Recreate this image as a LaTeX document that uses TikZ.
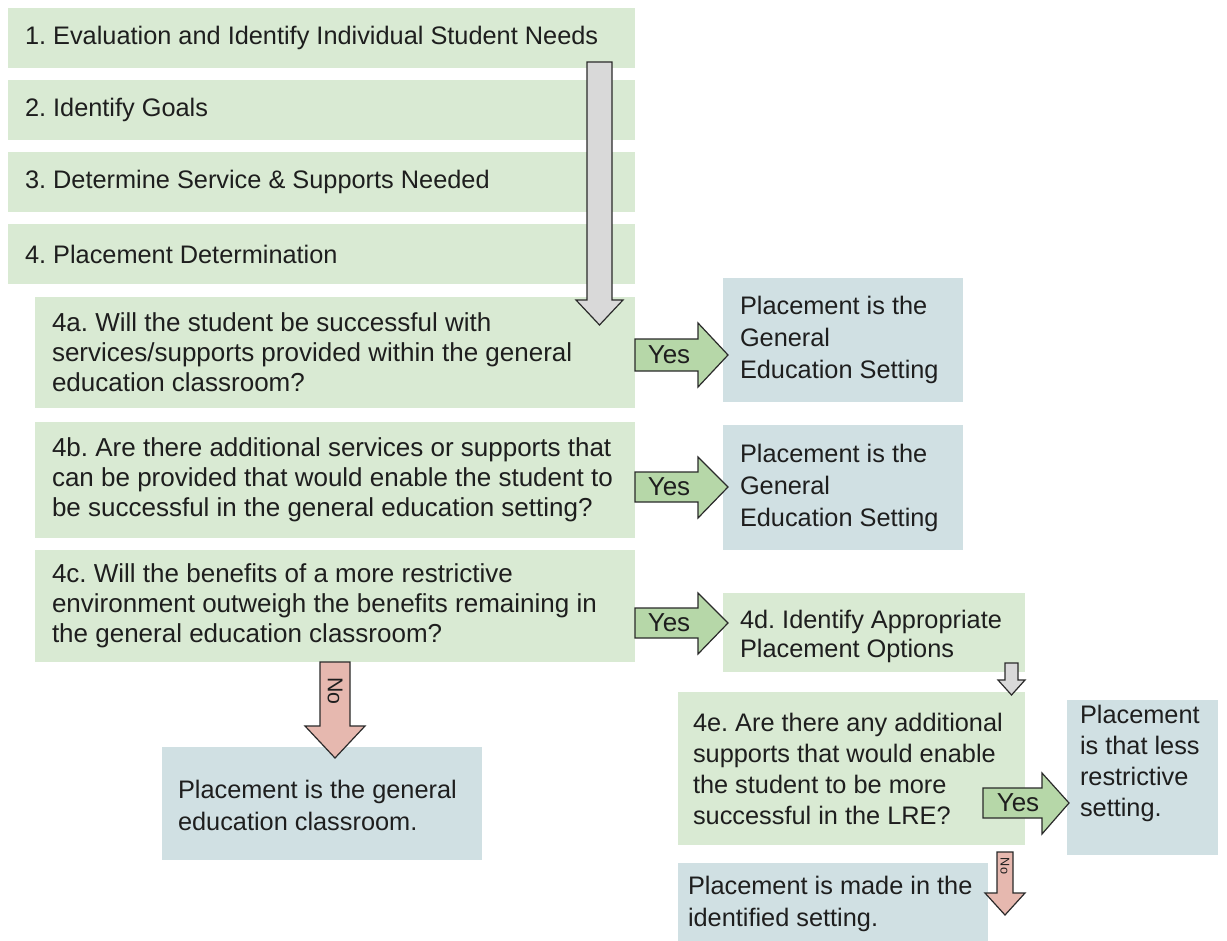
\documentclass[tikz,border=0pt]{standalone}
\usepackage{fontspec}
\setmainfont{Liberation Sans}
\usetikzlibrary{calc,fit}
\frenchspacing
\definecolor{gfill}{HTML}{D9EAD3}
\definecolor{bfill}{HTML}{D0E0E3}
\definecolor{yfill}{HTML}{B6D7A8}
\definecolor{nfill}{HTML}{E6B8AF}
\definecolor{grayf}{HTML}{D9D9D9}
\definecolor{txtc}{HTML}{1E1E1E}
\definecolor{edgec}{HTML}{2A2A2A}
\begin{document}
\frenchspacing
\begin{tikzpicture}[x=0.75pt,y=-0.75pt,
  gbox/.style={fill=gfill, draw=none, inner sep=0pt},
  bbox/.style={fill=bfill, draw=none, inner sep=0pt},
  txt/.style={inner sep=0pt, anchor=west, align=left, text=txtc,
    font=\fontsize{19}{23.5}\selectfont},
  qtxt/.style={txt, font=\fontsize{19.5}{22.5}\selectfont},
  yesarr/.style={fill=yfill, draw=edgec, line width=0.9pt, line join=miter},
  noarr/.style={fill=nfill, draw=edgec, line width=0.9pt, line join=miter},
  grayarr/.style={fill=grayf, draw=edgec, line width=0.9pt, line join=miter},
  yestxt/.style={inner sep=0pt, text=txtc, font=\fontsize{19.5}{22}\selectfont},
  notxt/.style={inner sep=0pt, text=txtc, rotate=-90, font=\fontsize{16}{18}\selectfont},
  smallno/.style={notxt, font=\fontsize{9.5}{11}\selectfont}
]
\useasboundingbox (0,0) rectangle (1227,941);
\fill[white] (0,0) rectangle (1227,941);

% boxes
\node[gbox, fit={(8,8)(635,68)}] (b1) {};
\node[gbox, fit={(8,80)(635,140)}] (b2) {};
\node[gbox, fit={(8,152)(635,212)}] (b3) {};
\node[gbox, fit={(8,224)(635,284)}] (b4) {};
\node[gbox, fit={(35,297)(635,408)}] (b4a) {};
\node[gbox, fit={(35,422)(635,538)}] (b4b) {};
\node[gbox, fit={(35,550)(635,662)}] (b4c) {};
\node[bbox, fit={(723,278)(963,402)}] (pA) {};
\node[bbox, fit={(723,425)(963,550)}] (pB) {};
\node[gbox, fit={(723,593)(1025,672)}] (b4d) {};
\node[gbox, fit={(678,692)(1025,845)}] (b4e) {};
\node[bbox, fit={(1067,700)(1218,855)}] (pC) {};
\node[bbox, fit={(162,747)(482,860)}] (pD) {};
\node[bbox, fit={(678,863)(988,941)}] (pE) {};

% big gray arrow
\draw[grayarr] (587,62) -- (612,62) -- (612,300) -- (623,300) -- (599.5,325) -- (576,300) -- (587,300) -- cycle;
% small gray arrow
\draw[grayarr] (1005,663) -- (1018,663) -- (1018,680) -- (1025,680) -- (1011.5,695) -- (998,680) -- (1005,680) -- cycle;

% yes arrows
\draw[yesarr] (635,339) -- (698,339) -- (698,323) -- (728,355) -- (698,387) -- (698,371) -- (635,371) -- cycle;
\node[yestxt] (y1) at (669,355) {Yes};
\draw[yesarr] (635,472) -- (698,472) -- (698,457) -- (728,487) -- (698,518) -- (698,502) -- (635,502) -- cycle;
\node[yestxt] (y2) at (669,487) {Yes};
\draw[yesarr] (635,608) -- (698,608) -- (698,593) -- (728,623) -- (698,654) -- (698,638) -- (635,638) -- cycle;
\node[yestxt] (y3) at (669,623) {Yes};
\draw[yesarr] (983,788) -- (1042,788) -- (1042,773) -- (1069,803) -- (1042,834) -- (1042,818) -- (983,818) -- cycle;
\node[yestxt] (y4) at (1018,803) {Yes};

% no arrows
\draw[noarr] (320,662) -- (350,662) -- (350,726) -- (365,726) -- (335,758) -- (305,726) -- (320,726) -- cycle;
\node[notxt] (n1) at (335,691) {No};
\draw[noarr] (997,852) -- (1013,852) -- (1013,893) -- (1025,893) -- (1005,915) -- (985,893) -- (997,893) -- cycle;
\node[smallno] (n2) at (1005,866) {No};

% texts
\node[txt] (t1) at ($(b1.west)+(17,0)$) {1. Evaluation and Identify Individual Student Needs};
\node[txt] (t2) at ($(b2.west)+(17,0)$) {2. Identify Goals};
\node[txt] (t3) at ($(b3.west)+(17,0)$) {3. Determine Service \& Supports Needed};
\node[txt] (t4) at ($(b4.west)+(17,0)$) {4. Placement Determination};
\node[qtxt] (t4a) at ($(b4a.west)+(17,0)$) {4a. Will the student be successful with\\services/supports provided within the general\\education classroom?};
\node[qtxt] (t4b) at ($(b4b.west)+(17,0)$) {4b. Are there additional services or supports that\\can be provided that would enable the student to\\be successful in the general education setting?};
\node[qtxt] (t4c) at ($(b4c.west)+(17,0)$) {4c. Will the benefits of a more restrictive\\environment outweigh the benefits remaining in\\the general education classroom?};
\node[txt, font=\fontsize{19}{24}\selectfont] (tA) at ($(pA.west)+(17,0)$) {Placement is the\\General\\Education Setting};
\node[txt, font=\fontsize{19}{24}\selectfont] (tB) at ($(pB.west)+(17,0)$) {Placement is the\\General\\Education Setting};
\node[txt, font=\fontsize{19}{21.5}\selectfont] (t4d) at ($(b4d.west)+(17,4)$) {4d. Identify Appropriate\\Placement Options};
\node[txt, font=\fontsize{19}{23.25}\selectfont] (t4e) at ($(b4e.west)+(15,0)$) {4e. Are there any additional\\supports that would enable\\the student to be more\\successful in the LRE?};
\node[txt, font=\fontsize{19}{23.25}\selectfont] (tC) at ($(pC.west)+(13,-14)$) {Placement\\is that less\\restrictive\\setting.};
\node[txt, font=\fontsize{19}{24}\selectfont] (tD) at ($(pD.west)+(16,2)$) {Placement is the general\\education classroom.};
\node[txt, font=\fontsize{19}{24}\selectfont] (tE) at ($(pE.west)+(10,2)$) {Placement is made in the\\identified setting.};
\end{tikzpicture}
\end{document}
